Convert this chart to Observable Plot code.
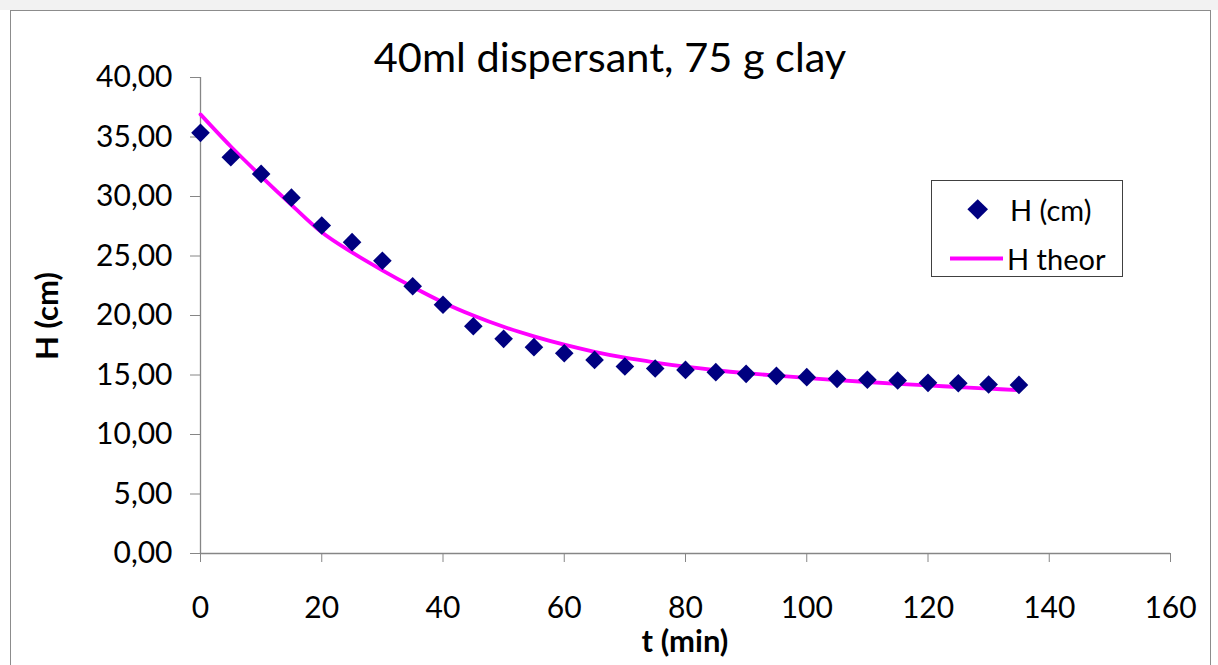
<!DOCTYPE html>
<html>
<head>
<meta charset="utf-8">
<script src="https://cdn.jsdelivr.net/npm/d3@7"></script>
<script src="https://cdn.jsdelivr.net/npm/@observablehq/plot@0.6"></script>
<style>
  html, body { margin: 0; padding: 0; background: #fff; overflow: hidden; }
  #wrap { position: relative; width: 1218px; height: 665px; font-family: Lato, "Open Sans", sans-serif; color: #000; }
  #topband { position: absolute; left: 0; top: 0; width: 1218px; height: 10px; background: #f2f2f2; }
  #frame { position: absolute; left: 10px; top: 10px; width: 1201px; height: 700px; border: 1px solid #8c8c8c; box-sizing: border-box; }
  #chart { position: absolute; left: 0; top: 0; }
  .title { position: absolute; left: 0; width: 1220px; top: 36px; text-align: center; font-size: 41.5px; line-height: 1; white-space: nowrap; }
  .xlab { position: absolute; left: 585px; width: 200px; top: 627px; text-align: center; font-size: 31px; font-weight: bold; line-height: 0.9; }
  .ylab { position: absolute; left: 47px; top: 316px; transform: translate(-50%, -50%) rotate(-90deg); font-size: 31px; font-weight: bold; line-height: 0.9; white-space: nowrap; }
  .legend { position: absolute; left: 931px; top: 180px; width: 192px; height: 97px; border: 1px solid #404040; box-sizing: border-box; background: #fff; }
  .legend .row { position: absolute; font-size: 29px; line-height: 1; white-space: nowrap; }
</style>
</head>
<body>
<div id="wrap">
  <div id="topband"></div>
  <div id="frame"></div>
  <div id="chart"></div>
  <div class="title">40ml dispersant, 75 g clay</div>
  <div class="ylab">H (cm)</div>
  <div class="xlab">t (min)</div>
  <div class="legend" id="legend"></div>
</div>
<script>
// ---- data ----
const timeMin = [0, 5, 10, 15, 20, 25, 30, 35, 40, 45, 50, 55, 60, 65, 70, 75, 80, 85, 90, 95, 100, 105, 110, 115, 120, 125, 130, 135];
const hMeasured = [35.35, 33.3, 31.9, 29.9, 27.56, 26.16, 24.6, 22.46, 20.9, 19.1, 18.04, 17.34, 16.83, 16.27, 15.71, 15.55, 15.43, 15.24, 15.1, 14.93, 14.82, 14.68, 14.6, 14.54, 14.34, 14.31, 14.2, 14.17];
const hTheor = [36.9, 34.2, 31.7, 29.3, 27.0, 25.3, 23.8, 22.4, 21.1, 20.0, 19.05, 18.25, 17.55, 16.95, 16.45, 16.05, 15.7, 15.4, 15.15, 14.94, 14.75, 14.57, 14.41, 14.26, 14.12, 13.99, 13.86, 13.72];
const xTicks = [0, 20, 40, 60, 80, 100, 120, 140, 160];
const yTicks = [0, 5, 10, 15, 20, 25, 30, 35, 40];
const seriesNames = ["H (cm)", "H theor"];
const colors = { measured: "#000080", theor: "#FF00FF", axis: "#868686" };

const measured = timeMin.map((t, i) => ({ t, h: hMeasured[i] }));
const theor = timeMin.map((t, i) => ({ t, h: hTheor[i] }));

const fmt = d => d.toFixed(2).replace(".", ",");

const chart = Plot.plot({
  width: 1218,
  height: 665,
  marginLeft: 200,
  marginRight: 48,
  marginTop: 77,
  marginBottom: 112,
  style: { fontFamily: "Lato, 'Open Sans', sans-serif", fontSize: "30px", background: "transparent", overflow: "visible" },
  x: { domain: [0, 160] },
  y: { domain: [0, 40] },
  marks: [
    Plot.axisX(xTicks, { tickSize: 9, tickPadding: 34, stroke: colors.axis, fill: "#000", label: null }),
    Plot.axisY(yTicks, { tickSize: 10, tickPadding: 18, stroke: colors.axis, fill: "#000", tickFormat: fmt, label: null }),
    Plot.ruleY([0], { stroke: colors.axis, strokeWidth: 1.3 }),
    Plot.ruleX([0], { stroke: colors.axis, strokeWidth: 1.3 }),
    Plot.line(theor, { x: "t", y: "h", stroke: colors.theor, strokeWidth: 3.8, curve: "catmull-rom" }),
    Plot.dot(measured, { x: "t", y: "h", symbol: "diamond2", r: 8.4, fill: colors.measured, stroke: "none" })
  ]
});
document.getElementById("chart").appendChild(chart);

// legend
const legend = document.getElementById("legend");
legend.innerHTML = `
  <svg width="190" height="95" style="position:absolute;left:0;top:0">
    <path d="M45.7,18.3 L56,28.3 L45.7,38.6 L35.4,28.3 Z" fill="${colors.measured}"/>
    <line x1="18" y1="77.5" x2="71" y2="77.5" stroke="${colors.theor}" stroke-width="4"/>
  </svg>
  <div class="row" style="left:78px;top:14px">${seriesNames[0]}</div>
  <div class="row" style="left:75px;top:63px">${seriesNames[1]}</div>`;
</script>
</body>
</html>
